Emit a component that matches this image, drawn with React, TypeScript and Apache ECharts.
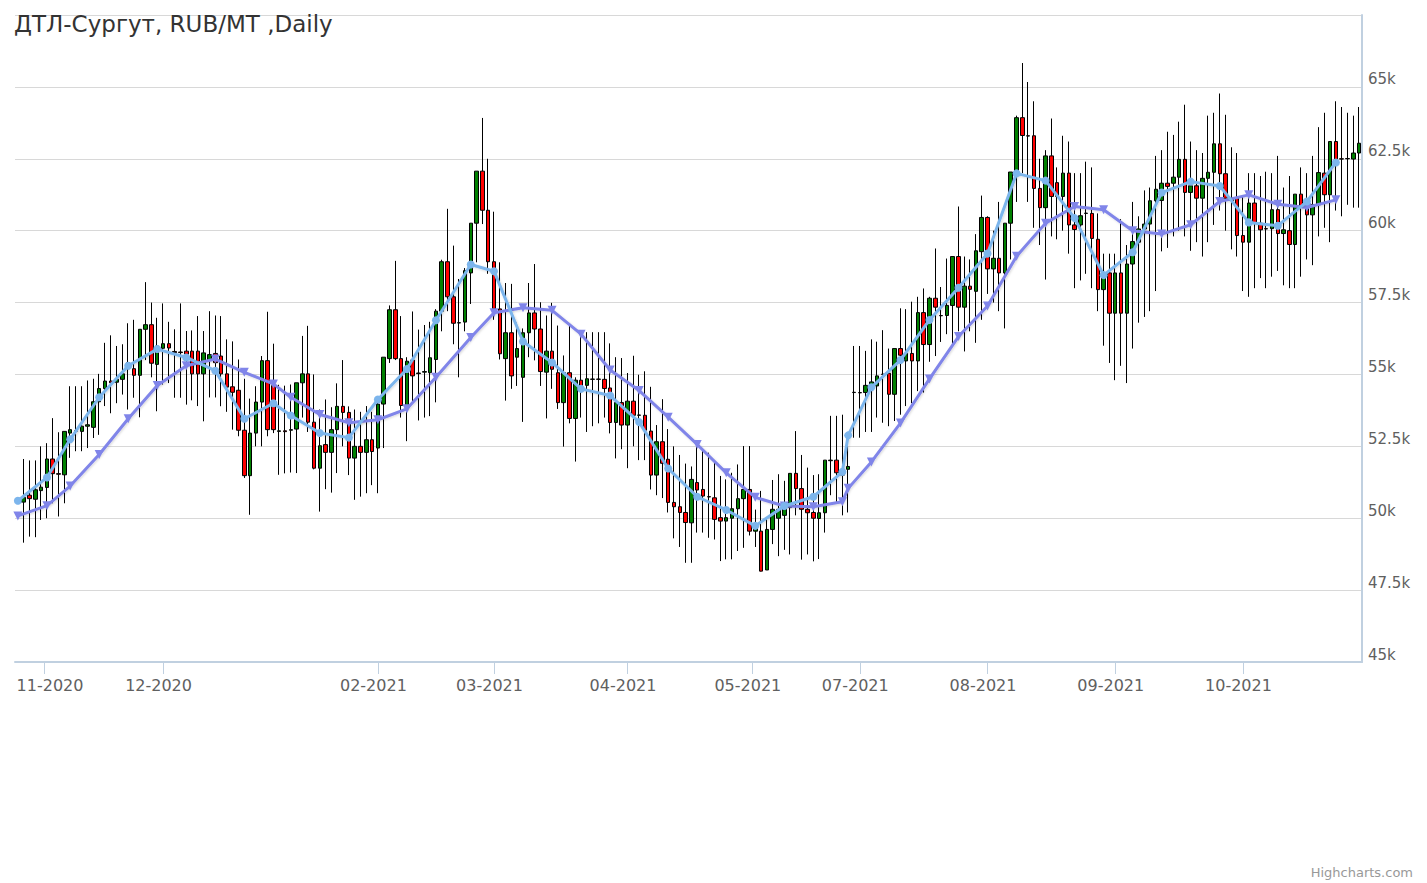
import React, { useEffect, useRef } from 'react';
import * as echarts from 'echarts';

const TITLE = 'ДТЛ-Сургут, RUB/MT ,Daily';
const CREDIT = 'Highcharts.com';

// Daily candles, one per trading day (category 1..231; category 0 holds only the first MA point)
// [open, close, low, high]
const candles: number[][] = [
  [50560, 50720, 49150, 52060], [50800, 50680, 49360, 52010], [50660, 50990, 49340, 52010], [50960, 51080, 49940, 52500],
  [51070, 52060, 50000, 52610], [52060, 51550, 50520, 53480], [51550, 51530, 50060, 52990], [51510, 53020, 50520, 53020],
  [52960, 53080, 52100, 54590], [53030, 53040, 52330, 54590], [53020, 53200, 52330, 54590], [53200, 53250, 52440, 54790],
  [53160, 54050, 52790, 54850], [54050, 54510, 52900, 55020], [54510, 54770, 53900, 56100], [54770, 54710, 53650, 56360],
  [54730, 54830, 54000, 55990], [54830, 55020, 54300, 56050], [55200, 55410, 53780, 56780], [55200, 54970, 54190, 56900],
  [54970, 56570, 53510, 56570], [56570, 56730, 55500, 58210], [56730, 55390, 54900, 57500], [55350, 55990, 53720, 56970],
  [55910, 56070, 54650, 57470], [56070, 55920, 54700, 56830], [55800, 55760, 54190, 56570], [55780, 55760, 54190, 57470],
  [55810, 55700, 53950, 56510], [55810, 55020, 54100, 56530], [55810, 55020, 53900, 57030], [55020, 55750, 53370, 56510],
  [55500, 55690, 54200, 57200], [55730, 55410, 54200, 57050], [55640, 55020, 53895, 57030], [55020, 54560, 53700, 56220],
  [54570, 54380, 53080, 56150], [54450, 53060, 52850, 55520], [53060, 51480, 51400, 54850], [51480, 52960, 50120, 54160],
  [52960, 54040, 52500, 54590], [54040, 55480, 52500, 55640], [55480, 53080, 52850, 57180], [54610, 53080, 52960, 56070],
  [53020, 53040, 51510, 54640], [53040, 53010, 51560, 54610], [53060, 53080, 51590, 54650], [53100, 54710, 51570, 54710],
  [54710, 55020, 53500, 56340], [55020, 53340, 53000, 56690], [53340, 51740, 51700, 55000], [51740, 52520, 50230, 53780],
  [52560, 52290, 51010, 54130], [52290, 53080, 50890, 53860], [53080, 53890, 51570, 54690], [53890, 53680, 52500, 55500],
  [53680, 52090, 51500, 53890], [52090, 52500, 50640, 53780], [52500, 52290, 50750, 53700], [52290, 52730, 50870, 53900],
  [52730, 52320, 51150, 53700], [52440, 53970, 50870, 54240], [53970, 55600, 52440, 55600], [55550, 57250, 55400, 57400],
  [57250, 55550, 55500, 58950], [55550, 53920, 53500, 57030], [53900, 55460, 52680, 55600], [55500, 54950, 54000, 57190],
  [55050, 55030, 53400, 56560], [55080, 55100, 53500, 56720], [55060, 55580, 53550, 56830], [55520, 57200, 54030, 57270],
  [57200, 58920, 56500, 58990], [58920, 57700, 57200, 60760], [57700, 56780, 56050, 59480], [56790, 56800, 54900, 58320],
  [56820, 58610, 56500, 58700], [58530, 60260, 57450, 60260], [60260, 62070, 58900, 62070], [62070, 60710, 60230, 63920],
  [60710, 58920, 58500, 62500], [58920, 57280, 56900, 60660], [57280, 55720, 55520, 58900], [55550, 56450, 54090, 58180],
  [56450, 54950, 54500, 58150], [55600, 55900, 54600, 56800], [54900, 56450, 53350, 56600], [56450, 57140, 55600, 58180],
  [57140, 56580, 55490, 58840], [56580, 55100, 54600, 57510], [55080, 55810, 53470, 57050], [55810, 55180, 54500, 57490],
  [55060, 54020, 53800, 56700], [54020, 55060, 52490, 55660], [55060, 53470, 53300, 56700], [53470, 54800, 51970, 54900],
  [54800, 54600, 53500, 56410], [54620, 54850, 53000, 56470], [54830, 54840, 53200, 56470], [54840, 54830, 53300, 56470],
  [54830, 54510, 53500, 56470], [54530, 53330, 52950, 56080], [53330, 54020, 52080, 55600], [54020, 53240, 52400, 55570],
  [53240, 54070, 51740, 55050], [54070, 53580, 52500, 55650], [53580, 53590, 52020, 54990], [53580, 53060, 52020, 55110],
  [53030, 51500, 51000, 54570], [51500, 52660, 50800, 53240], [52660, 51910, 50700, 54140], [52050, 50550, 50200, 53100],
  [50550, 50400, 49300, 52500], [50400, 50200, 49000, 52200], [50200, 49850, 48450, 51900], [49840, 51350, 48450, 51800],
  [51240, 50980, 49500, 52570], [51000, 50770, 49500, 52400], [50750, 50740, 49320, 52280], [50710, 49960, 49260, 51930],
  [50020, 49900, 48510, 51470], [49900, 50020, 48570, 51350], [50000, 50330, 48570, 51580], [50330, 50680, 48860, 51870],
  [50680, 51000, 48970, 52510], [51000, 49550, 49400, 52510], [49550, 49700, 49000, 50300], [49550, 48160, 48150, 50950],
  [48200, 49610, 48200, 50000], [49610, 50310, 49100, 51330], [50000, 50310, 48680, 51530], [50100, 50500, 48900, 51300],
  [50370, 51560, 48740, 51560], [51560, 51030, 50100, 53030], [51030, 50310, 48560, 52200], [50310, 50190, 48740, 51760],
  [50200, 50000, 48500, 51500], [49990, 50190, 48580, 51530], [50190, 52020, 49500, 52020], [52000, 52020, 50800, 53560],
  [52020, 51580, 50500, 53560], [51500, 51700, 50100, 53600], [51700, 51800, 50200, 53000], [54370, 54380, 52800, 55990],
  [54370, 54360, 52800, 55990], [54370, 54620, 53000, 55820], [54600, 54740, 53000, 56220], [54600, 54950, 53500, 56140],
  [55010, 55000, 53320, 56540], [55040, 54310, 53200, 55900], [54310, 55900, 53380, 55900], [55900, 55670, 53600, 57300],
  [55470, 55730, 53900, 57270], [55730, 55470, 54000, 57530], [55470, 57150, 54420, 57700], [57150, 56040, 54370, 57990],
  [56040, 57650, 55440, 57700], [57650, 57340, 55640, 59380], [57050, 57040, 56130, 58040], [57050, 57400, 56400, 59030],
  [57400, 59100, 56000, 59100], [59100, 57340, 56500, 60840], [57340, 58070, 55800, 59100], [58070, 57960, 56500, 59000],
  [57890, 59300, 56100, 59880], [59270, 60460, 56900, 61220], [60460, 58670, 57800, 60500], [58670, 59040, 57500, 60000],
  [59040, 58530, 57200, 61000], [58530, 60260, 56600, 60260], [60260, 62040, 59000, 62040], [62040, 63930, 61000, 64000],
  [63930, 63310, 62000, 65830], [63300, 63290, 61000, 65170], [63300, 61470, 60100, 64500], [61470, 60800, 59500, 62500],
  [60800, 62600, 58300, 62800], [62600, 61190, 59800, 63900], [61670, 61190, 59700, 62200], [61190, 62000, 60000, 63300],
  [62000, 60200, 59200, 63100], [60200, 60040, 58000, 62000], [60200, 60520, 58270, 62000], [60600, 60610, 58500, 62400],
  [60600, 59730, 58000, 62200], [59700, 57950, 57200, 60600], [57950, 58440, 56000, 59200], [58530, 57130, 55400, 59200],
  [57130, 58530, 54800, 59200], [58530, 57130, 55300, 60400], [57130, 58840, 54700, 59500], [58840, 59620, 55900, 61000],
  [59600, 60060, 56800, 60500], [60060, 60230, 57000, 61400], [60230, 61040, 57200, 61500], [61040, 61440, 57900, 62600],
  [61050, 61650, 59280, 62800], [61650, 61540, 59400, 63440], [61650, 61860, 59800, 63330], [61860, 62480, 60000, 63790],
  [62480, 61330, 59800, 64380], [61330, 61560, 59300, 63100], [61560, 61130, 59600, 62800], [61130, 61820, 59100, 62700],
  [61820, 62030, 59600, 64000], [62030, 63020, 60200, 64100], [63020, 61980, 60700, 64770], [61980, 61130, 60000, 64030],
  [61100, 61050, 59350, 62900], [61130, 59830, 59100, 62700], [59830, 59600, 57900, 61200], [59600, 60960, 57700, 62000],
  [60960, 60260, 58000, 62000], [60260, 60030, 58350, 61900], [60070, 60060, 58000, 62050], [60070, 60730, 58400, 62000],
  [60730, 59900, 58600, 62600], [59900, 60030, 58100, 61500], [60000, 59520, 58000, 61900], [59520, 61270, 58000, 61270],
  [61270, 60820, 58400, 62200], [60950, 60550, 59000, 62000], [60550, 60900, 58800, 62600], [60900, 62020, 59800, 63600],
  [62000, 61250, 60100, 64100], [61250, 63100, 59600, 63100], [63100, 62460, 60700, 64500], [62500, 62490, 60500, 64300],
  [62500, 62510, 60900, 64100], [62490, 62700, 60800, 64000], [62700, 63040, 60800, 64300],
];

// Weekly moving-average points: trading-day index of each point and its value
const maPointIndex = [0, 5, 9, 14, 19, 24, 29, 34, 39, 44, 47, 52, 57, 62, 67, 72, 78, 82, 87, 92, 97, 102, 107, 112,
  117, 122, 127, 132, 137, 142, 143, 147, 152, 157, 162, 167, 172, 177, 182, 187, 192, 197, 202, 207, 212, 217, 222, 227];
const maFast = [50609, 51419, 52744, 54207, 55304, 55882, 55591, 55131, 53460, 54000, 53574, 52962, 52803, 54128, 55190,
  56885, 58823, 58591, 56145, 55418, 54498, 54266, 53342, 51730, 50747, 50287, 49734, 50426, 50747, 51612, 52882, 54553,
  55501, 56896, 58014, 59203, 61992, 61740, 60436, 58453, 59249, 61325, 61706, 61556, 60287, 60172, 61013, 62373];
const maSlow = [50080, 50436, 51118, 52214, 53460, 54612, 55304, 55536, 55072, 54671, 54207, 53609, 53322, 53425, 53806,
  54899, 56283, 57148, 57321, 57231, 56401, 55155, 54439, 53515, 52565, 51578, 50727, 50426, 50401, 50574, 51038, 51958,
  53308, 54844, 56318, 57380, 59110, 60262, 60840, 60726, 60000, 59882, 60207, 61013, 61245, 60920, 60805, 61072];

// Month ticks (trading-day index of month start) and labels
const monthTickIndex = [4.5, 25, 62, 82, 105, 126.5, 145, 167, 189, 211];
const monthTickLabels = ['11-2020', '12-2020', '02-2021', '03-2021', '04-2021', '05-2021', '07-2021', '08-2021', '09-2021', '10-2021'];

const Y_MIN = 45000;
const Y_MAX = 67500;
const Y_STEP = 2500;

const FONT = '"DejaVu Sans", "Lucida Grande", Verdana, sans-serif';

export default function App() {
  const ref = useRef<HTMLDivElement>(null);

  useEffect(() => {
    if (!ref.current) return;
    const chart = echarts.init(ref.current, null, { renderer: 'svg' });
    const categoryCount = candles.length + 1;
    const categories = Array.from({ length: categoryCount }, (_, i) => String(i));
    const candleRows = candles.map((c, i) => [i + 1, c[0], c[1], c[2], c[3]]);

    const option: any = {
      animation: false,
      backgroundColor: '#ffffff',
      title: {
        text: TITLE,
        left: 14,
        top: 12,
        padding: 0,
        textStyle: { fontSize: 23, fontWeight: 'normal', color: '#333333', fontFamily: FONT },
      },
      graphic: [
        {
          type: 'text',
          right: 14,
          bottom: 4,
          style: { text: CREDIT, fill: '#999999', font: '13px ' + FONT },
        },
      ],
      grid: { left: 15, right: 65, top: 15, bottom: 221, containLabel: false },
      xAxis: [
        {
          type: 'category',
          data: categories,
          boundaryGap: true,
          show: false,
        },
        {
          type: 'value',
          min: -0.5,
          max: categoryCount - 0.5,
          position: 'bottom',
          axisLine: { show: true, onZero: false, lineStyle: { color: '#C0D0E0', width: 2 } },
          axisTick: { show: true, customValues: monthTickIndex, length: 12, lineStyle: { color: '#C0D0E0', width: 1 } },
          splitLine: { show: false },
          axisLabel: {
            customValues: monthTickIndex,
            margin: 15,
            formatter: (v: number) => {
              const i = monthTickIndex.indexOf(v);
              const lab = i >= 0 ? monthTickLabels[i] : '';
              return i === 0 ? `{first|${lab}}` : `{norm|${lab}}`;
            },
            rich: {
              first: { padding: [0, 0, 0, 12], fontSize: 16, color: '#606060', fontFamily: FONT },
              norm: { padding: [0, 9, 0, 0], fontSize: 16, color: '#606060', fontFamily: FONT },
            },
          },
        },
      ],
      yAxis: {
        type: 'value',
        position: 'right',
        min: Y_MIN,
        max: Y_MAX,
        interval: Y_STEP,
        axisLine: { show: true, onZero: false, lineStyle: { color: '#C0D0E0', width: 2 } },
        axisTick: { show: false },
        splitLine: { show: true, lineStyle: { color: '#D8D8D8', width: 1 } },
        axisLabel: {
          showMaxLabel: false,
          margin: 6,
          verticalAlign: 'bottom',
          color: '#606060',
          fontSize: 15,
          fontFamily: FONT,
          formatter: (v: number) => `${v / 1000}k`,
        },
      },
      series: [
        {
          type: 'candlestick',
          xAxisIndex: 0,
          yAxisIndex: 0,
          data: candleRows,
          encode: { x: 0, y: [1, 2, 3, 4] },
          barWidth: 4,
          z: 2,
          itemStyle: {
            color: '#008000',
            color0: '#FF0000',
            borderColor: '#000000',
            borderColor0: '#000000',
            borderWidth: 1,
          },
        },
        {
          type: 'line',
          name: 'slow',
          xAxisIndex: 1,
          yAxisIndex: 0,
          data: maPointIndex.map((k, i) => [k, maSlow[i]]),
          symbol: 'triangle',
          symbolRotate: 180,
          symbolSize: 9,
          z: 3,
          lineStyle: { color: '#8085E9', width: 3, shadowColor: 'rgba(0,0,0,0.15)', shadowBlur: 2, shadowOffsetX: 1, shadowOffsetY: 1 },
          itemStyle: { color: '#8085E9' },
        },
        {
          type: 'line',
          name: 'fast',
          xAxisIndex: 1,
          yAxisIndex: 0,
          data: maPointIndex.map((k, i) => [k, maFast[i]]),
          symbol: 'circle',
          symbolSize: 8,
          z: 4,
          lineStyle: { color: '#7CB5EC', width: 3, shadowColor: 'rgba(0,0,0,0.15)', shadowBlur: 2, shadowOffsetX: 1, shadowOffsetY: 1 },
          itemStyle: { color: '#7CB5EC' },
        },
      ],
    };

    chart.setOption(option);
    return () => chart.dispose();
  }, []);

  return <div ref={ref} style={{ position: 'absolute', left: 0, top: 0, width: 1427, height: 883 }} />;
}
